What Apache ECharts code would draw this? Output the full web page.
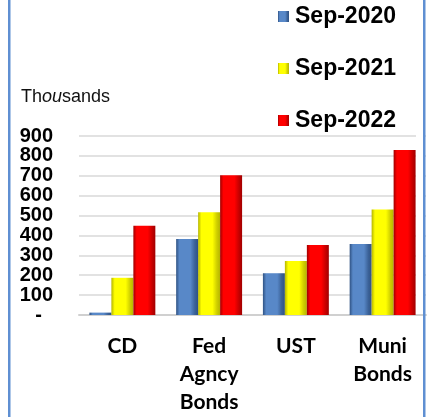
<!DOCTYPE html>
<html>
<head>
<meta charset="utf-8">
<script src="https://cdn.jsdelivr.net/npm/echarts@6/dist/echarts.min.js"></script>
<style>
  html, body { margin: 0; padding: 0; background: #fff; }
  #chart { width: 429px; height: 417px; }
</style>
</head>
<body>
<div id="chart"></div>
<script>
// data (thousands)
const categories = ['CD', 'Fed\nAgncy\nBonds', 'UST', 'Muni\nBonds']
const seriesNames = ['Sep-2020', 'Sep-2021', 'Sep-2022']
const sep2020 = [12, 382, 210, 357]
const sep2021 = [187, 516, 271, 531]
const sep2022 = [449, 703, 352, 829]
const yTicks = [0, 100, 200, 300, 400, 500, 600, 700, 800, 900]

// bevel look: dark edge, bright middle, darker right side
function bevel(edge, mid, dark) {
  return new echarts.graphic.LinearGradient(0, 0, 1, 0, [
    { offset: 0, color: edge },
    { offset: 0.15, color: mid },
    { offset: 0.65, color: mid },
    { offset: 0.85, color: dark },
    { offset: 1, color: edge },
  ])
}
const colors = [
  bevel('#2f5283', '#5888c8', '#3b6298'),
  bevel('#b5b500', '#ffff00', '#cfcf00'),
  bevel('#a00000', '#ff0000', '#c80000'),
]

const myChart = echarts.init(document.getElementById('chart'))

function bar(name, data, i) {
  return {
    name: name,
    type: 'bar',
    data: data,
    barGap: '0%',
    barCategoryGap: '24%',
    itemStyle: { color: colors[i] },
    z: 3,
  }
}

const option = {
  animation: false,
  textStyle: { fontFamily: 'Liberation Sans' },
  legend: {
    orient: 'vertical',
    left: 273,
    top: 0,
    itemWidth: 11,
    itemHeight: 11,
    itemGap: 29,
    icon: 'rect',
    textStyle: {
      fontFamily: 'Liberation Sans',
      fontWeight: 'bold',
      fontSize: 23,
      lineHeight: 23,
      color: '#000',
      padding: [0, 0, 0, 1],
    },
    data: seriesNames,
  },
  grid: { left: 79, right: 3, top: 136, bottom: 102 },
  xAxis: [
    {
      type: 'category',
      data: categories,
      axisLine: { lineStyle: { color: '#d0d0d0', width: 2 } },
      axisTick: { length: 7, lineStyle: { color: '#d0d0d0', width: 2 } },
      axisLabel: {
        margin: 17,
        fontFamily: 'Lato',
        fontWeight: 'bold',
        fontSize: 21,
        lineHeight: 28,
        color: '#000',
        interval: 0,
      },
    },
    {
      // inner half of the tick marks
      type: 'category',
      data: categories,
      position: 'bottom',
      axisLine: { show: false },
      axisTick: { inside: true, length: 5, lineStyle: { color: '#d0d0d0', width: 2 } },
      axisLabel: { show: false },
    },
  ],
  yAxis: {
    type: 'value',
    min: yTicks[0],
    max: yTicks[yTicks.length - 1],
    interval: 100,
    axisLine: { show: false },
    axisTick: { show: false },
    splitLine: { lineStyle: { color: '#d9d9d9', width: 1.5 } },
    axisLabel: {
      margin: 26,
      fontFamily: 'Liberation Sans',
      fontWeight: 'bold',
      fontSize: 20,
      color: '#000',
      formatter: function (v) {
        return v === 0 ? '-  ' : String(v)
      },
    },
  },
  graphic: [
    {
      type: 'text',
      left: 21,
      top: 88,
      style: {
        text: 'Th{i|ou}sands',
        font: '18px "Liberation Sans"',
        fill: '#111',
        rich: {
          i: { fontStyle: 'italic', fontSize: 18, fontFamily: 'Liberation Sans', fill: '#111' },
        },
      },
    },
    // hide gridline ends past the last bar
    {
      type: 'rect',
      shape: { x: 416, y: 128, width: 7, height: 185 },
      style: { fill: '#fff' },
      z: 50,
    },
    {
      type: 'rect',
      shape: { x: 8, y: 0, width: 2.5, height: 417 },
      style: { fill: '#5f8fd2' },
      z: 100,
    },
    {
      type: 'rect',
      shape: { x: 423, y: 0, width: 2.5, height: 417 },
      style: { fill: '#5f8fd2' },
      z: 100,
    },
  ],
  series: [
    bar(seriesNames[0], sep2020, 0),
    bar(seriesNames[1], sep2021, 1),
    bar(seriesNames[2], sep2022, 2),
  ],
}

myChart.setOption(option, true)
</script>
</body>
</html>
